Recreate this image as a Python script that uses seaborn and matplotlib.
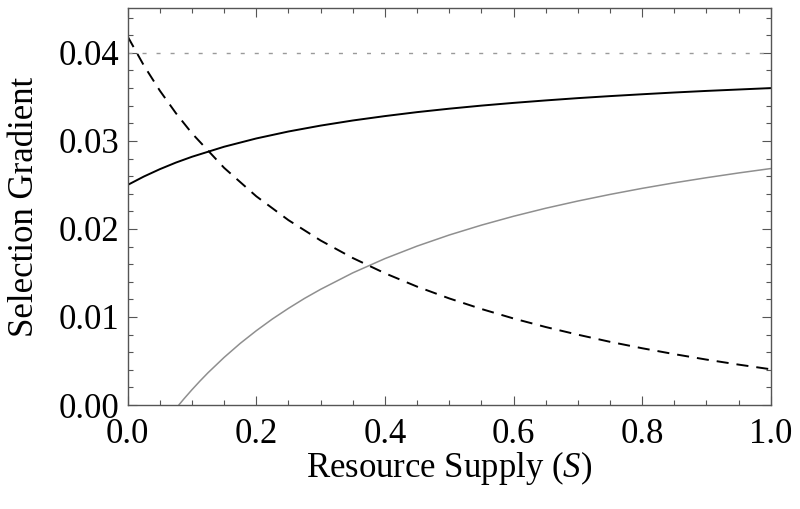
import matplotlib
matplotlib.use('Agg')
import matplotlib.pyplot as plt
import pandas as pd
import seaborn as sns
from matplotlib.ticker import MultipleLocator, FormatStrFormatter

# values
s_grid = [0.0, 0.025, 0.05, 0.075, 0.1, 0.15, 0.2, 0.25, 0.3, 0.35, 0.4, 0.45, 0.5,
          0.55, 0.6, 0.65, 0.7, 0.75, 0.8, 0.85, 0.9, 0.95, 1.0]
solid_black = [0.02500, 0.02595, 0.02679, 0.02754, 0.02820, 0.02934, 0.03028, 0.03107,
               0.03174, 0.03232, 0.03282, 0.03327, 0.03366, 0.03401, 0.03432, 0.03460,
               0.03486, 0.03509, 0.03530, 0.03550, 0.03568, 0.03584, 0.03600]
dashed_black = [0.04186, 0.03859, 0.03571, 0.03315, 0.03086, 0.02694, 0.02371, 0.02100,
                0.01869, 0.01670, 0.01497, 0.01345, 0.01211, 0.01091, 0.00983, 0.00886,
                0.00799, 0.00718, 0.00645, 0.00578, 0.00516, 0.00459, 0.00406]
s_gray = [0.0795, 0.0875, 0.1, 0.1125, 0.125, 0.15, 0.175, 0.2, 0.225, 0.25, 0.275, 0.3,
          0.35, 0.4, 0.45, 0.5, 0.55, 0.6, 0.65, 0.7, 0.75, 0.8, 0.85, 0.9, 0.95, 1.0]
solid_gray = [0.0, 0.00070, 0.00174, 0.00273, 0.00367, 0.00541, 0.00700, 0.00844, 0.00977,
              0.01098, 0.01211, 0.01314, 0.01501, 0.01663, 0.01805, 0.01931, 0.02043,
              0.02144, 0.02235, 0.02317, 0.02392, 0.02461, 0.02524, 0.02582, 0.02636,
              0.02686]
s_flat = [0.0, 1.0]
dotted_gray = [0.04, 0.04]

sns.set_theme(style='ticks')
plt.rcParams['font.family'] = ['Liberation Serif', 'DejaVu Serif']
plt.rcParams['mathtext.fontset'] = 'custom'
plt.rcParams['mathtext.rm'] = 'Liberation Serif'
plt.rcParams['mathtext.it'] = 'Liberation Serif:italic'
plt.rcParams['text.color'] = 'black'
plt.rcParams['axes.labelcolor'] = 'black'
plt.rcParams['xtick.labelcolor'] = 'black'
plt.rcParams['ytick.labelcolor'] = 'black'

fig = plt.figure(figsize=(8, 5.09), dpi=100)
ax = fig.add_axes([0.1596, 0.2043, 0.8038, 0.78])

df_black = pd.DataFrame({'S': s_grid, 'solid': solid_black, 'dashed': dashed_black})
df_gray = pd.DataFrame({'S': s_gray, 'g': solid_gray})
df_flat = pd.DataFrame({'S': s_flat, 'y': dotted_gray})

sns.lineplot(data=df_flat, x='S', y='y', ax=ax, color='#9a9a9a', linewidth=1.0,
             linestyle=(0, (2.9, 7.2)))
sns.lineplot(data=df_gray, x='S', y='g', ax=ax, color='#8f8f8f', linewidth=1.1)
sns.lineplot(data=df_black, x='S', y='dashed', ax=ax, color='black', linewidth=1.4,
             linestyle=(0, (6.2, 4.1)))
sns.lineplot(data=df_black, x='S', y='solid', ax=ax, color='black', linewidth=1.4)

ax.set_xlim(0, 1)
ax.set_ylim(0, 0.0451)
ax.xaxis.set_major_locator(MultipleLocator(0.2))
ax.xaxis.set_minor_locator(MultipleLocator(0.05))
ax.yaxis.set_major_locator(MultipleLocator(0.01))
ax.yaxis.set_minor_locator(MultipleLocator(0.002))
ax.xaxis.set_major_formatter(FormatStrFormatter('%.1f'))
ax.yaxis.set_major_formatter(FormatStrFormatter('%.2f'))

for sp in ax.spines.values():
    sp.set_color('#555555')
    sp.set_linewidth(1.0)
ax.tick_params(which='both', direction='in', top=True, right=True, color='#555555',
               width=0.8, labelsize=25)
ax.tick_params(which='major', length=6.5)
ax.tick_params(which='minor', length=3.8)
ax.tick_params(axis='x', which='major', pad=9)
ax.tick_params(axis='y', which='major', pad=6)

ax.set_xlabel('Resource Supply ($\\mathit{S}$)', fontsize=25, labelpad=-1)
ax.set_ylabel('Selection Gradient', fontsize=25, labelpad=13)

plt.savefig('out.png', dpi=100)
